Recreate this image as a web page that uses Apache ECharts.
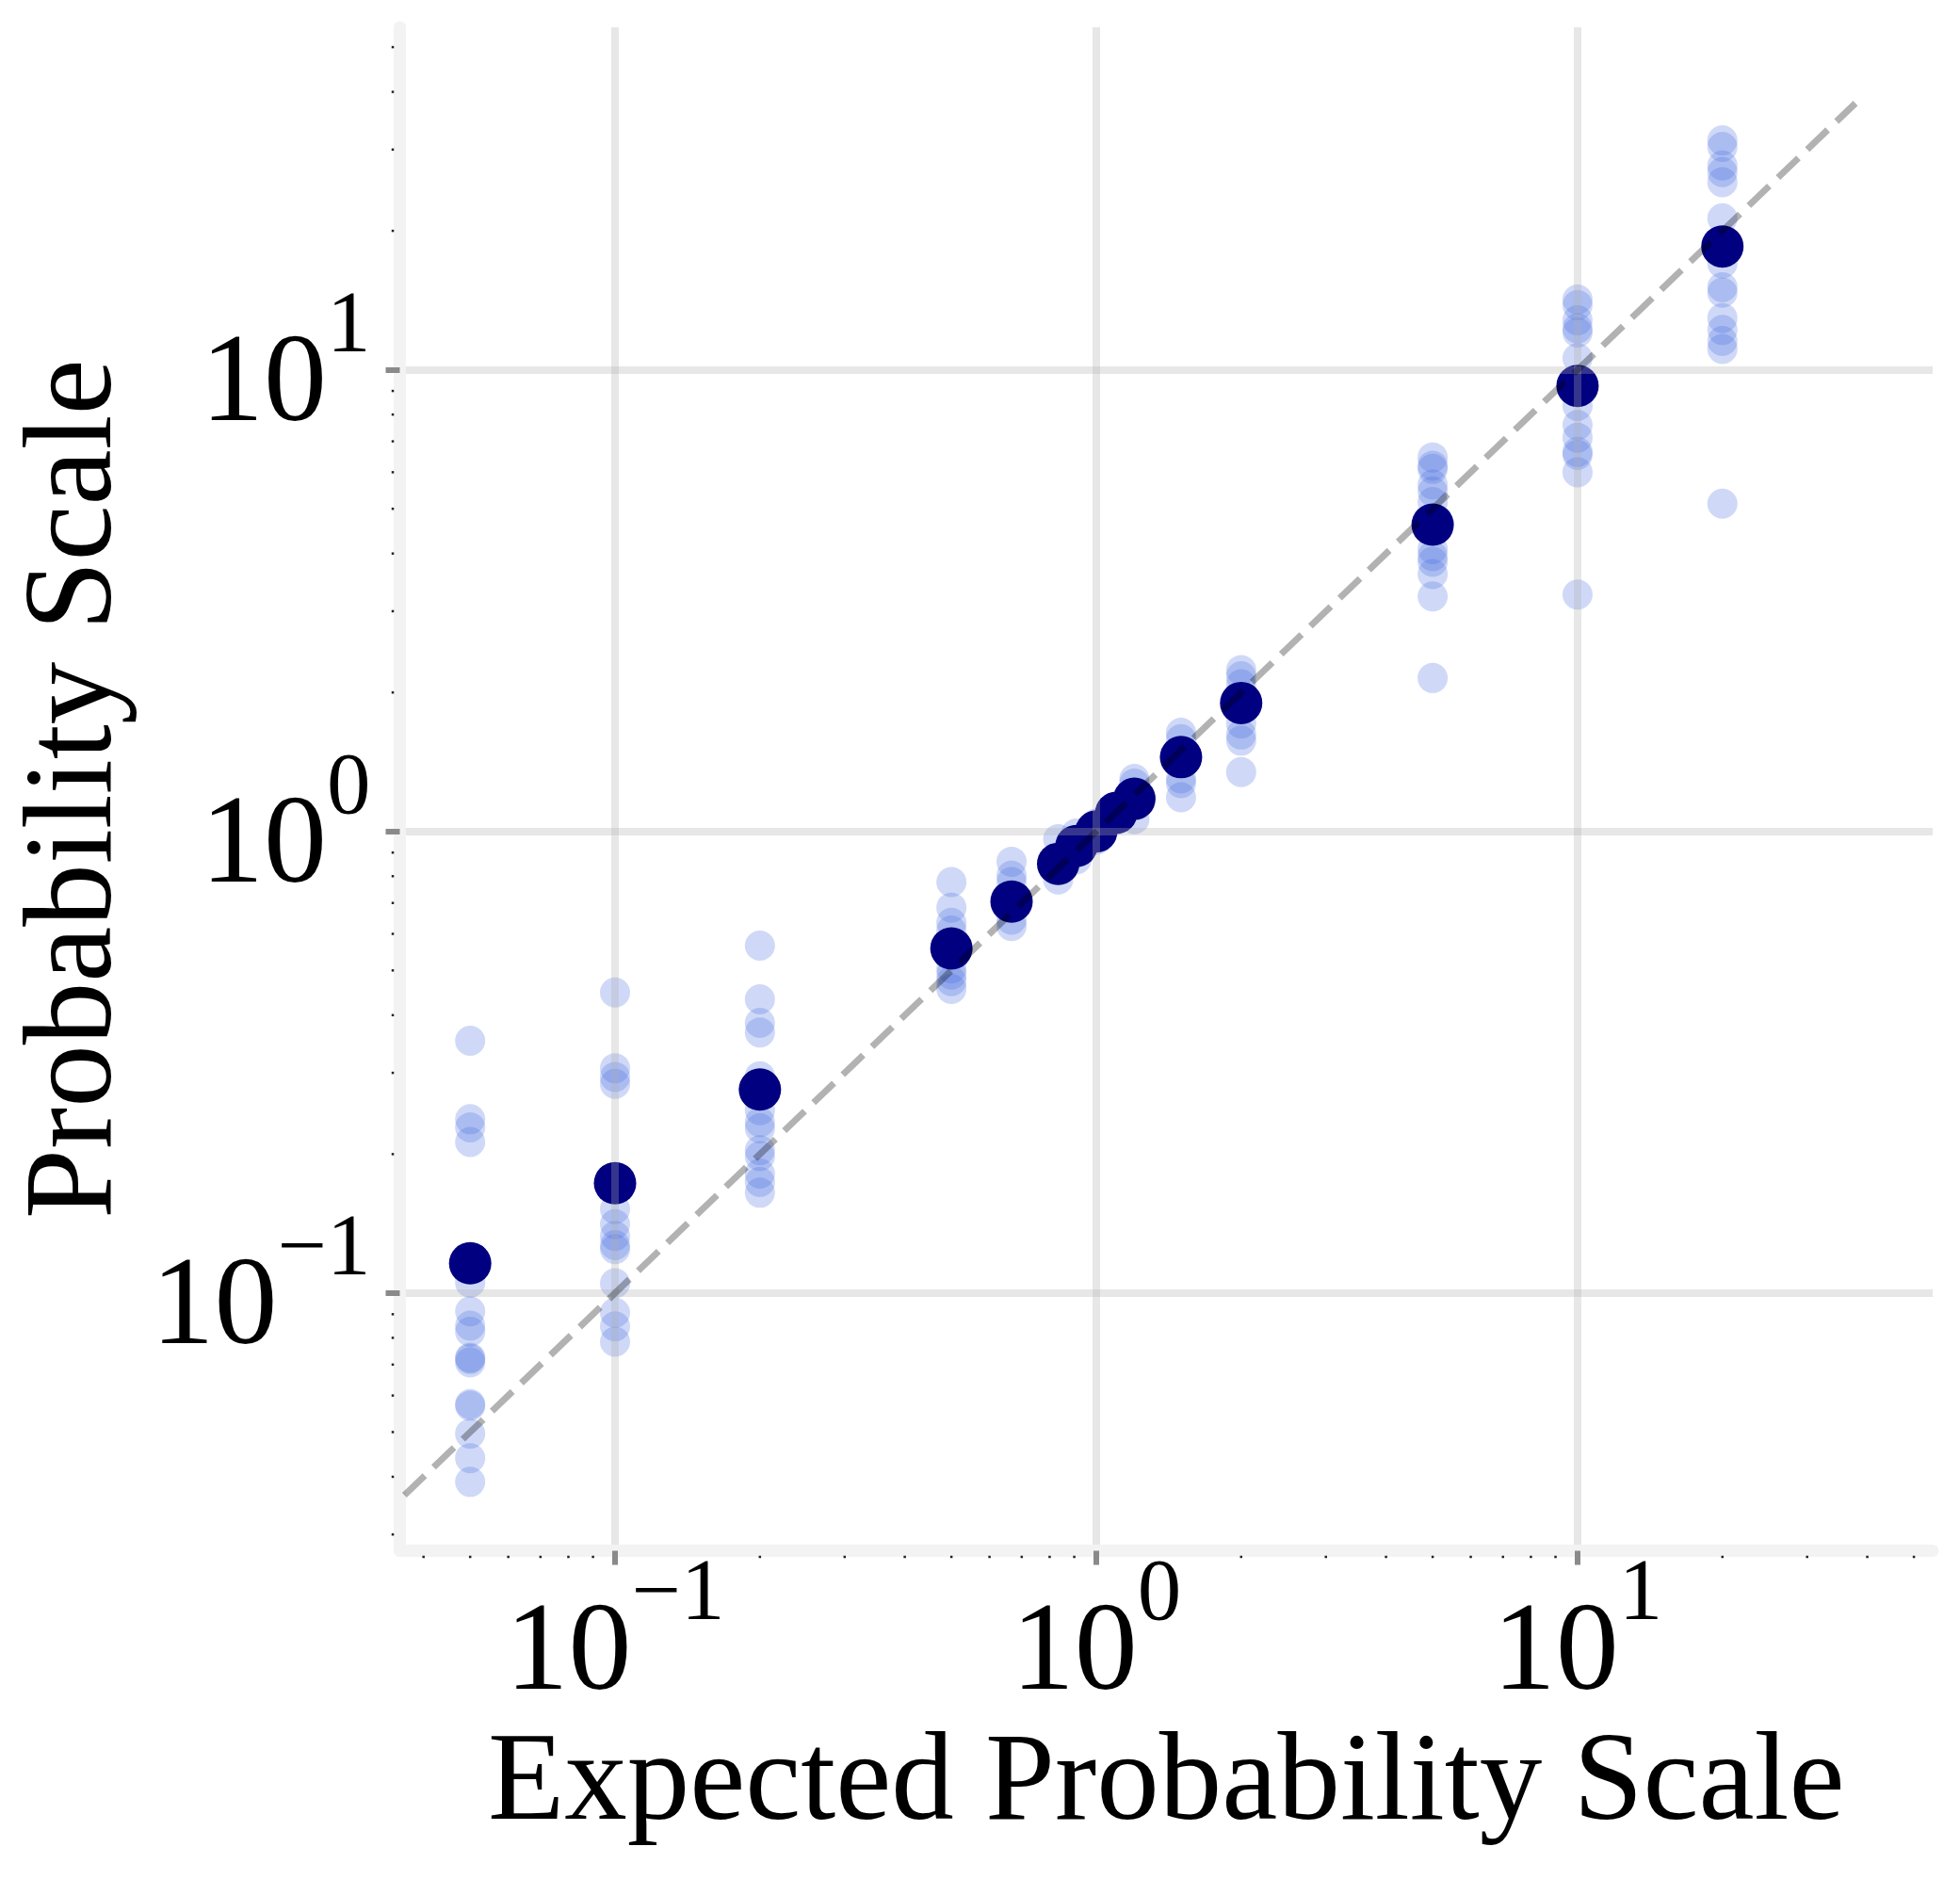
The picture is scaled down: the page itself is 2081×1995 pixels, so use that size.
<!DOCTYPE html>
<html>
<head>
<meta charset="utf-8">
<title>Probability Scale</title>
<script src="https://cdn.jsdelivr.net/npm/echarts@6/dist/echarts.min.js"></script>
<style>
  html, body { margin: 0; padding: 0; background: #fff; }
  #chart { width: 2081px; height: 1995px; }
</style>
</head>
<body>
<div id="chart"></div>
<script>
// expected probability (x) for each column of runs
var expected = [0.05, 0.1, 0.2, 0.5, 0.6667, 0.8333, 0.9091, 1, 1.1, 1.2, 1.5, 2, 5, 10, 20];
// mean of the runs (dark dots)
var meanScale = [0.116, 0.173, 0.276, 0.558, 0.705, 0.851, 0.93, 1.0, 1.097, 1.177, 1.449, 1.898, 4.62, 9.23, 18.5];

// single runs (light dots), one list per column
var runs005 = [0.352, 0.238, 0.2286, 0.2125, 0.1053, 0.0913, 0.085, 0.0825, 0.0725, 0.072, 0.0708, 0.0575, 0.057, 0.0496, 0.0439, 0.039];
var runs01 = [0.448, 0.307, 0.294, 0.284, 0.152, 0.141, 0.133, 0.127, 0.1245, 0.105, 0.0907, 0.0847, 0.0785];
var runs02 = [0.566, 0.433, 0.385, 0.367, 0.295, 0.249, 0.2345, 0.2275, 0.204, 0.198, 0.1815, 0.174, 0.165];
var runs05 = [0.777, 0.684, 0.634, 0.61, 0.505, 0.49, 0.474, 0.456];
var runs067 = [0.86, 0.802, 0.777, 0.644, 0.624];
var runs083 = [0.962, 0.787];
var runs091 = [0.99, 0.87];
var runs1 = [1.04, 0.96];
var runs11 = [1.12, 1.06];
var runs12 = [1.3, 1.27, 1.063];
var runs15 = [1.636, 1.585, 1.303, 1.273, 1.186];
var runs2 = [2.237, 2.168, 2.084, 1.714, 1.622, 1.573, 1.345];
var runs5 = [6.46, 6.2, 6.1, 5.64, 5.45, 5.17, 4.09, 3.95, 3.84, 3.61, 3.23, 2.15];
var runs10 = [14.2, 13.8, 12.8, 12.3, 12.05, 10.6, 8.35, 7.59, 7.13, 6.64, 6.54, 6.0, 3.26];
var runs20 = [31.4, 30.4, 27.7, 26.8, 25.5, 21.3, 17.0, 15.1, 14.7, 12.95, 12.2, 11.55, 11.1, 5.13];
var runs = [runs005, runs01, runs02, runs05, runs067, runs083, runs091, runs1, runs11, runs12, runs15, runs2, runs5, runs10, runs20];

// y = x reference line ends
var refLine = [0.0365, 37.8];

// axes
var xRange = [0.03571, 54.7];
var yRange = [0.02766, 55.2];
var majorTicks = [0.1, 1, 10];
var xMinorTicks = [0.04, 0.05, 0.06, 0.07, 0.08, 0.09, 0.2, 0.3, 0.4, 0.5, 0.6, 0.7, 0.8, 0.9,
  2, 3, 4, 5, 6, 7, 8, 9, 20, 30, 40, 50];
var yMinorTicks = [0.03, 0.04, 0.05, 0.06, 0.07, 0.08, 0.09, 0.2, 0.3, 0.4, 0.5, 0.6, 0.7, 0.8, 0.9,
  2, 3, 4, 5, 6, 7, 8, 9, 20, 30, 40, 50];

var serif = '"Liberation Serif", "DejaVu Serif", serif';

var tickRich = {
  b: { fontSize: 134, fontFamily: serif, color: '#000', lineHeight: 176, verticalAlign: 'bottom' },
  s: { fontSize: 93, fontFamily: serif, color: '#000', lineHeight: 40, verticalAlign: 'top' }
};

// 10 with a superscript exponent
var powLabel = function (v) {
  var e = Math.round(Math.log(v) / Math.LN10);
  return '{b|10}{s|' + (e < 0 ? '\u2212' + (-e) : e) + '}';
};

var lightData = [];
for (var i = 0; i < expected.length; i++) {
  for (var j = 0; j < runs[i].length; j++) {
    lightData.push([expected[i], runs[i][j]]);
  }
}
var meanData = [];
for (var k = 0; k < expected.length; k++) {
  meanData.push([expected[k], meanScale[k]]);
}

var minorTickItem = function (dx, dy) {
  return function (params, api) {
    var p = api.coord([api.value(0), api.value(1)]);
    return {
      type: 'rect',
      shape: { x: p[0] + dx - 1.25, y: p[1] + dy - 1.25, width: 2.5, height: 2.5 },
      style: { fill: '#222' }
    };
  };
};

var chart = echarts.init(document.getElementById('chart'), null, { renderer: 'canvas' });

var option = {
  animation: false,
  backgroundColor: '#fff',
  textStyle: { fontFamily: serif },
  grid: { left: 424.5, right: 29, top: 29, bottom: 348.5, containLabel: false, outerBoundsMode: 'none' },
  xAxis: {
    type: 'log',
    logBase: 10,
    min: xRange[0],
    max: xRange[1],
    axisLine: { show: true, onZero: false, lineStyle: { color: '#f3f3f3', width: 13 } },
    axisTick: { show: true, length: 15, customValues: majorTicks, lineStyle: { color: '#8a8a8a', width: 6 } },
    minorTick: { show: false },
    axisLabel: { show: true, customValues: majorTicks, formatter: powLabel, margin: 2, color: '#000', rich: tickRich },
    splitLine: { show: true, lineStyle: { color: 'rgba(176,176,176,0.3)', width: 8 } },
    name: 'Expected Probability Scale',
    nameLocation: 'middle',
    nameGap: 173,
    nameTextStyle: { fontSize: 133, fontFamily: serif, color: '#000' }
  },
  yAxis: {
    type: 'log',
    logBase: 10,
    min: yRange[0],
    max: yRange[1],
    axisLine: { show: true, onZero: false, lineStyle: { color: '#f3f3f3', width: 13 } },
    axisTick: { show: true, length: 15, customValues: majorTicks, lineStyle: { color: '#8a8a8a', width: 6 } },
    minorTick: { show: false },
    axisLabel: { show: true, customValues: majorTicks, formatter: powLabel, margin: 31, color: '#000',
      padding: [0, 0, 6, 0], rich: tickRich },
    splitLine: { show: true, lineStyle: { color: 'rgba(176,176,176,0.3)', width: 8 } },
    name: 'Probability Scale',
    nameLocation: 'middle',
    nameGap: 276,
    nameTextStyle: { fontSize: 133, fontFamily: serif, color: '#000' }
  },
  series: [
    {
      name: 'runs',
      type: 'scatter',
      z: -2,
      symbolSize: 32,
      silent: true,
      itemStyle: { color: 'rgba(65,105,225,0.25)', borderWidth: 0, opacity: 1 },
      data: lightData
    },
    {
      name: 'mean',
      type: 'scatter',
      z: -1,
      symbolSize: 45,
      silent: true,
      itemStyle: { color: '#000080', borderWidth: 0, opacity: 1 },
      data: meanData
    },
    {
      name: 'expected',
      type: 'line',
      z: 5,
      symbol: 'none',
      silent: true,
      lineStyle: { color: 'rgba(0,0,0,0.3)', width: 7, type: [30, 13] },
      data: [[refLine[0], refLine[0]], [refLine[1], refLine[1]]]
    },
    {
      // minor ticks under the x axis
      type: 'custom',
      z: 6,
      silent: true,
      clip: false,
      renderItem: minorTickItem(0, 6.5),
      data: xMinorTicks.map(function (v) { return [v, yRange[0]]; })
    },
    {
      // minor ticks left of the y axis
      type: 'custom',
      z: 6,
      silent: true,
      clip: false,
      renderItem: minorTickItem(-7.5, 0),
      data: yMinorTicks.map(function (v) { return [xRange[0], v]; })
    }
  ]
};

chart.setOption(option);
</script>
</body>
</html>
